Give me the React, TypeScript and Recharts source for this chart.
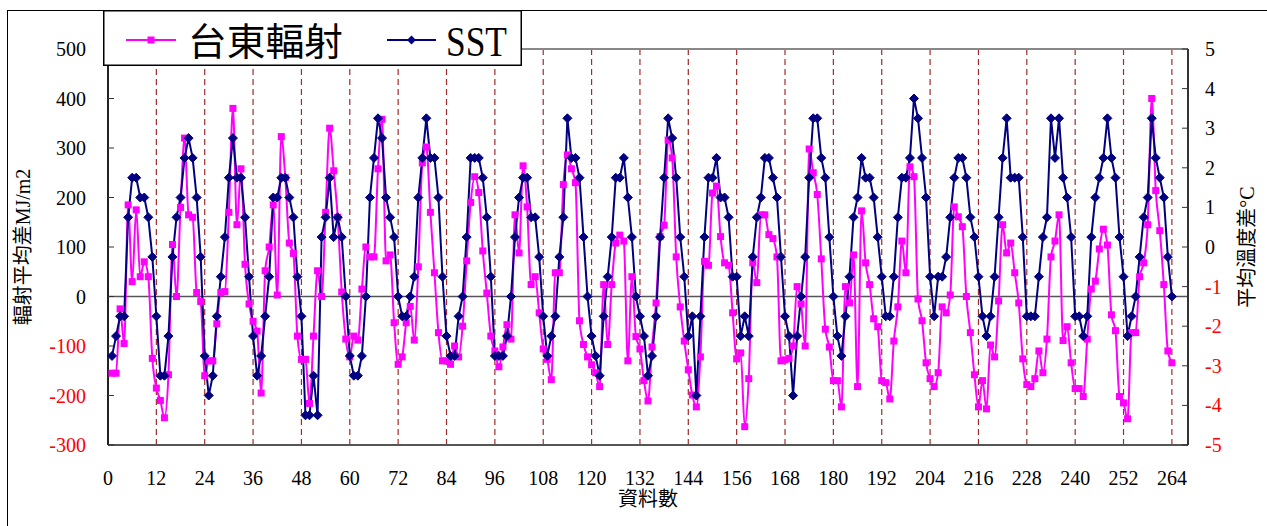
import React from "react"
import {
  LineChart,
  Line,
  XAxis,
  YAxis,
  CartesianGrid,
  ReferenceLine,
  Legend
} from "recharts"

// 台東月輻射距平 (MJ/m2)，每列 12 個月
const radiation = [
  -155, -155, -25, -95, 185, 30, 175, 40, 70, 40, -125, -185,
  -210, -245, -158, 105, 0, 180, 320, 165, 160, 8, -10, -160,
  -130, -130, -55, 8, 10, 170, 380, 145, 258, 65, -15, -50,
  -70, -195, 52, 100, 185, 3, 323, 240, 108, 87, -80, -127,
  -127, -216, -80, 52, 0, 170, 340, 254, 160, 9, -86, -122,
  -80, -88, 15, 100, 80, 80, 258, 358, 72, 84, -53, -137,
  -122, -53, -20, -88, 60, 270, 302, 170, 48, -73, -130, -130,
  -137, -100, -122, -60, 72, 190, 242, 210, 92, 7, -80, -110,
  -142, -102, -57, -86, 165, 88, 264, 181, 24, 40, -33, -106,
  -127, -168, 48, 48, 226, 286, 258, 230, -49, -97, -122, -138,
  -154, -182, 24, -97, 24, 108, 124, 112, -130, 40, -81, -106,
  -170, -211, -102, -13, 121, 144, 316, 280, 80, -21, -90, -148,
  -199, -223, -122, 71, 63, 209, 223, 121, 68, 63, -33, -126,
  -114, -263, -166, 68, 28, 165, 165, 125, 117, 80, -130, -128,
  -125, -100, 20, -15, -100, 298, 250, 206, 76, -66, -102, -170,
  -170, -223, 20, -13, 84, -182, 173, 68, 24, -45, -61, -170,
  -174, -207, -90, -21, 112, 48, 262, 242, -5, -49, -134, -166,
  -182, -154, -21, -33, 3, 181, 161, 141, 0, -73, -158, -223,
  -170, -227, -98, -122, -9, 145, 88, 108, 48, -13, -126, -178,
  -182, -166, -110, -154, -86, 80, 112, 165, -89, -61, -134, -186,
  -186, -202, -86, 15, 31, 96, 136, 104, -37, -69, -202, -215,
  -247, -73, -73, 40, 68, 145, 400, 214, 133, 24, -110, -134
]

// 海溫距平 (°C)
const sst = [
  -2.75, -2.25, -1.75, -1.75, 0.75, 1.75, 1.75, 1.25, 1.25, 0.75, -0.25, -1.75,
  -3.25, -3.25, -2.25, -0.25, 0.75, 1.25, 2.25, 2.75, 2.25, 1.25, -0.25, -2.75,
  -3.75, -3.25, -1.75, -0.75, 0.25, 1.75, 2.75, 1.75, 1.75, 0.75, -0.75, -2.25,
  -3.25, -2.75, -1.75, -0.75, 1.25, 1.25, 1.75, 1.75, 1.25, 0.75, -0.75, -1.75,
  -4.25, -4.25, -3.25, -4.25, 0.25, 0.75, 1.75, 0.25, 0.75, 0.25, -1.25, -2.75,
  -3.25, -3.25, -2.75, -1.25, 1.25, 2.25, 3.25, 2.75, 1.25, 0.75, 0.25, -1.25,
  -1.75, -1.75, -1.25, -0.75, 1.25, 2.25, 3.25, 2.25, 2.25, 1.25, -0.75, -2.25,
  -2.75, -2.75, -1.75, -1.25, 0.25, 2.25, 2.25, 2.25, 1.75, 0.75, -0.75, -2.75,
  -2.75, -2.75, -2.25, -1.25, 0.25, 1.25, 1.75, 1.75, 0.75, 0.75, -0.25, -1.75,
  -2.75, -2.25, -1.75, -0.25, 0.75, 3.25, 2.25, 2.25, 1.75, 0.25, -1.25, -2.25,
  -2.75, -3.25, -1.75, -0.75, 0.25, 1.75, 1.75, 2.25, 1.25, 0.25, -1.25, -1.75,
  -2.25, -3.25, -2.75, -1.75, 0.25, 1.75, 3.25, 2.75, 1.75, 0.25, -0.75, -2.25,
  -1.75, -3.75, -1.75, 0.25, 1.75, 1.75, 2.25, 1.25, 1.25, 0.75, -0.75, -0.75,
  -2.25, -1.75, -2.25, -0.25, 0.75, 1.25, 2.25, 2.25, 1.75, 1.25, -0.25, -1.75,
  -2.25, -3.75, -2.25, -1.25, -0.25, 1.75, 3.25, 3.25, 2.25, 1.75, 0.25, -1.25,
  -2.25, -2.75, -1.75, -0.75, 0.75, 1.25, 2.25, 1.75, 1.75, 1.25, 0.25, -0.75,
  -1.75, -1.75, -0.75, 0.75, 1.75, 1.75, 2.25, 3.75, 3.25, 2.25, 1.25, -0.75,
  -1.75, -0.75, -0.75, -0.25, 0.75, 1.75, 2.25, 2.25, 1.75, 0.75, 0.25, -0.75,
  -1.75, -2.25, -1.75, -0.75, 0.75, 2.25, 3.25, 1.75, 1.75, 1.75, 0.25, -1.75,
  -1.75, -1.75, -0.75, 0.25, 0.75, 3.25, 2.25, 3.25, 1.75, 1.25, 0.25, -1.75,
  -1.75, -2.25, -1.75, 0.25, 1.25, 1.75, 2.25, 3.25, 2.25, 1.75, 0.25, -0.75,
  -2.25, -1.75, -1.25, -0.25, 0.75, 1.25, 3.25, 2.25, 1.75, 1.25, -0.25, -1.25
]

const xTicks = [0, 12, 24, 36, 48, 60, 72, 84, 96, 108, 120, 132, 144, 156, 168, 180, 192, 204, 216, 228, 240, 252, 264]
const radTicks = [-300, -200, -100, 0, 100, 200, 300, 400, 500]
const sstTicks = [-5, -4, -3, -2, -1, 0, 1, 2, 3, 4, 5]

const data = radiation.map((r, k) => ({ n: k + 1, radiation: r, sst: sst[k] }))

const PINK = "#FF00FF"
const NAVY = "#000080"
const SERIF = "Liberation Serif, Times New Roman, DejaVu Serif, serif"
const CJK = "Liberation Serif, Noto Sans CJK TC, sans-serif"

const serifText = { fontFamily: SERIF }
const cjkText = { fontFamily: CJK }

// negative tick values are printed in red
function ValueTick(props: any) {
  const { x, y, payload, textAnchor } = props
  return (
    <text
      x={x}
      y={y}
      dy="0.35em"
      textAnchor={textAnchor}
      fontSize={20}
      style={serifText}
      fill={payload.value < 0 ? "#FF0000" : "#000"}
    >
      {payload.value}
    </text>
  )
}

function XTick(props: any) {
  const { x, y, payload } = props
  return (
    <text x={x} y={y} dy="0.71em" textAnchor="middle" fontSize={20} style={serifText} fill="#000">
      {payload.value}
    </text>
  )
}

function SquareDot(props: any) {
  const { cx, cy } = props
  if (cx == null || cy == null) return null
  return <rect x={cx - 3.5} y={cy - 3.5} width={7} height={7} fill={PINK} />
}

function DiamondDot(props: any) {
  const { cx, cy } = props
  if (cx == null || cy == null) return null
  const r = 4.5
  return (
    <polygon
      points={`${cx},${cy - r} ${cx + r},${cy} ${cx},${cy + r} ${cx - r},${cy}`}
      fill={NAVY}
      stroke={NAVY}
    />
  )
}

function LegendBox() {
  return (
    <svg width={419} height={56} style={{ display: "block" }}>
      <rect x={0.75} y={0.75} width={417.5} height={54.5} fill="#fff" stroke="#000" strokeWidth={1.5} />
      <line x1={23} x2={73} y1={30} y2={30} stroke={PINK} strokeWidth={2} />
      <rect x={44.5} y={26.5} width={7} height={7} fill={PINK} />
      <text x={85} y={45} fontSize={38} style={cjkText} textLength={155} lengthAdjust="spacingAndGlyphs">
        台東輻射
      </text>
      <line x1={284} x2={333} y1={30} y2={30} stroke={NAVY} strokeWidth={2} />
      <polygon points="308.5,25.5 313,30 308.5,34.5 304,30" fill={NAVY} />
      <text x={343} y={46} fontSize={42} style={serifText} textLength={61} lengthAdjust="spacingAndGlyphs">
        SST
      </text>
    </svg>
  )
}

export default function App() {
  return (
    <div style={{ position: "relative", width: 1267, height: 526, overflow: "hidden", background: "#fff" }}>
      <style>{"body{margin:0}"}</style>
      <div
        style={{
          position: "absolute",
          left: 7,
          top: 10,
          width: 1300,
          height: 600,
          borderLeft: "1.5px solid #000",
          borderTop: "1.5px solid #000"
        }}
      />
      <LineChart
        width={1267}
        height={526}
        data={data}
        margin={{ top: 49, right: 20, left: 8, bottom: 0 }}
        style={{ position: "absolute", left: 0, top: 0 }}
      >
        <CartesianGrid
          yAxisId="rad"
          horizontal={false}
          vertical={true}
          stroke="#A52A2A"
          strokeDasharray="6 4"
          strokeWidth={1.2}
        />
        <XAxis
          dataKey="n"
          type="number"
          domain={[0, 268]}
          ticks={xTicks}
          interval={0}
          height={81}
          tickLine={false}
          tickSize={6}
          tickMargin={20}
          axisLine={{ stroke: "#555", strokeWidth: 2 }}
          tick={<XTick />}
          label={{
            value: "資料數",
            position: "insideBottom",
            offset: 20,
            fontSize: 20,
            fill: "#000",
            style: cjkText
          }}
        />
        <YAxis
          yAxisId="rad"
          domain={[-300, 500]}
          ticks={radTicks}
          interval={0}
          width={100}
          tickSize={-6}
          tickMargin={28}
          tickLine={{ stroke: "#333" }}
          axisLine={{ stroke: "#222", strokeWidth: 2 }}
          tick={<ValueTick />}
          label={{
            value: "輻射平均差MJ/m2",
            angle: -90,
            position: "insideLeft",
            offset: 15,
            fontSize: 20,
            fill: "#000",
            style: { ...cjkText, textAnchor: "middle" }
          }}
        />
        <YAxis
          yAxisId="sst"
          orientation="right"
          domain={[-5, 5]}
          ticks={sstTicks}
          interval={0}
          width={59}
          tickSize={-6}
          tickMargin={23}
          tickLine={{ stroke: "#333" }}
          axisLine={{ stroke: "#333", strokeWidth: 2 }}
          tick={<ValueTick />}
          label={{
            value: "平均溫度差°C",
            angle: -90,
            position: "insideRight",
            offset: 0,
            fontSize: 20,
            fill: "#000",
            style: { ...cjkText, textAnchor: "middle" }
          }}
        />
        <ReferenceLine yAxisId="rad" y={500} stroke="#888" strokeWidth={2} />
        <ReferenceLine yAxisId="rad" y={0} stroke="#555" strokeWidth={1.5} />
        <Legend
          layout="vertical"
          align="center"
          verticalAlign="middle"
          wrapperStyle={{ top: 10, left: 103, width: 419, height: 56 }}
          content={<LegendBox />}
        />
        <Line
          yAxisId="rad"
          type="monotone"
          dataKey="radiation"
          name="台東輻射"
          stroke={PINK}
          strokeWidth={2}
          dot={<SquareDot />}
          activeDot={false}
          isAnimationActive={false}
        />
        <Line
          yAxisId="sst"
          type="linear"
          dataKey="sst"
          name="SST"
          stroke={NAVY}
          strokeWidth={2}
          dot={<DiamondDot />}
          activeDot={false}
          isAnimationActive={false}
        />
      </LineChart>
    </div>
  )
}
